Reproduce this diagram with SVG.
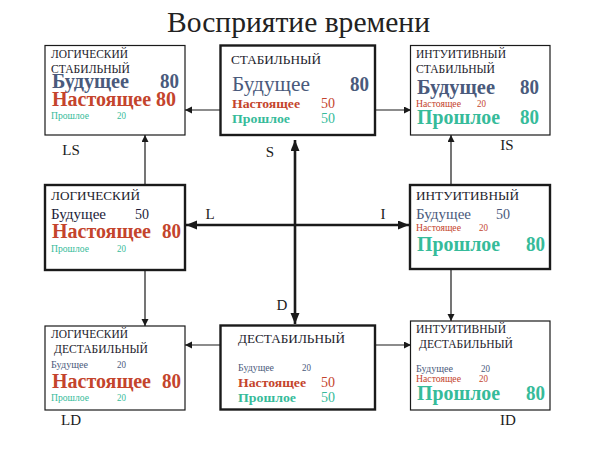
<svg xmlns="http://www.w3.org/2000/svg" width="600" height="450" viewBox="0 0 600 450">
<style>
text{font-family:"Liberation Serif","Times New Roman",serif}
.box{fill:#fff;stroke:#1a1a1a;stroke-width:1.2}
.bx{fill:#fff;stroke:#1a1a1a;stroke-width:2.4}
.hd{font-size:11.5px;fill:#1c1c2c}
.hdl{font-size:13px;fill:#1c1c2c}
.title{font-size:29px;fill:#222}
.fb{fill:#4a5a7c}
.fp{fill:#c4442c}
.fo{fill:#36bb9a}
.big{font-size:20px;font-weight:bold}
.mid{font-size:14px}
.midb{font-size:13.5px;font-weight:bold}
.sm{font-size:9.5px}
.lab{font-size:15px;fill:#1a1a1a}
.thin{stroke:#1a1a1a;stroke-width:1.2;fill:none}
.thick{stroke:#1a1a1a;stroke-width:2.6;fill:none}
</style>
<defs>
<marker id="as" markerUnits="userSpaceOnUse" markerWidth="8" markerHeight="8" refX="7" refY="3.5" orient="auto">
<path d="M0,0 L7,3.5 L0,7 Z" fill="#1a1a1a"/>
</marker>
<marker id="ab" markerUnits="userSpaceOnUse" markerWidth="12" markerHeight="10" refX="11" refY="4.5" orient="auto">
<path d="M0,0 L11,4.5 L0,9 Z" fill="#1a1a1a"/>
</marker>
</defs>
<rect width="600" height="450" fill="#fff"/>
<text class="title" x="167" y="32" textLength="263" lengthAdjust="spacingAndGlyphs">Восприятие времени</text>

<g id="connectors">
<line class="thin" x1="220" y1="110" x2="185" y2="110" marker-end="url(#as)"/>
<line class="thin" x1="375" y1="110" x2="411" y2="110" marker-end="url(#as)"/>
<line class="thin" x1="145" y1="185" x2="145" y2="135" marker-end="url(#as)"/>
<line class="thin" x1="451" y1="185" x2="451" y2="135" marker-end="url(#as)"/>
<line class="thin" x1="145" y1="270" x2="145" y2="326" marker-end="url(#as)"/>
<line class="thin" x1="451" y1="269" x2="451" y2="321" marker-end="url(#as)"/>
<line class="thin" x1="220" y1="345" x2="185" y2="345" marker-end="url(#as)"/>
<line class="thin" x1="375" y1="345" x2="411" y2="345" marker-end="url(#as)"/>
<line class="thick" x1="295" y1="225" x2="295" y2="140" marker-end="url(#ab)"/>
<line class="thick" x1="295" y1="225" x2="295" y2="324" marker-end="url(#ab)"/>
<line class="thick" x1="295" y1="225" x2="186" y2="225" marker-end="url(#ab)"/>
<line class="thick" x1="295" y1="225" x2="409" y2="225" marker-end="url(#ab)"/>
<text class="lab" x="270" y="157" text-anchor="middle">S</text>
<text class="lab" x="282" y="310" text-anchor="middle">D</text>
<text class="lab" x="210" y="219" text-anchor="middle">L</text>
<text class="lab" x="383" y="219" text-anchor="middle">I</text>
</g>

<g id="LS">
<rect class="box" x="45" y="45.5" width="140" height="89.5"/>
<text class="hd" x="51" y="58" textLength="77" lengthAdjust="spacingAndGlyphs">ЛОГИЧЕСКИЙ</text>
<text class="hd" x="51" y="72.5" textLength="79" lengthAdjust="spacingAndGlyphs">СТАБИЛЬНЫЙ</text>
<text class="big fb" x="52" y="88" textLength="77" lengthAdjust="spacingAndGlyphs">Будущее</text>
<text class="big fb" x="160" y="88" textLength="19" lengthAdjust="spacingAndGlyphs">80</text>
<text class="big fp" x="52" y="106" textLength="124" lengthAdjust="spacingAndGlyphs">Настоящее 80</text>
<text class="sm fo" x="51" y="119" textLength="38" lengthAdjust="spacingAndGlyphs">Прошлое</text>
<text class="sm fo" x="117" y="119" textLength="9" lengthAdjust="spacingAndGlyphs">20</text>
<text class="lab" x="71" y="155" text-anchor="middle">LS</text>
</g>

<g id="S">
<rect class="bx" x="220.5" y="45.5" width="154.5" height="89.5"/>
<text class="hdl" x="231" y="64" textLength="90" lengthAdjust="spacingAndGlyphs">СТАБИЛЬНЫЙ</text>
<text class="big fb" x="232" y="91" style="font-weight:normal" textLength="78" lengthAdjust="spacingAndGlyphs">Будущее</text>
<text class="big fb" x="350" y="91" textLength="19" lengthAdjust="spacingAndGlyphs">80</text>
<text class="midb fp" x="232" y="108" textLength="68" lengthAdjust="spacingAndGlyphs">Настоящее</text>
<text class="mid fp" x="321" y="108" textLength="14" lengthAdjust="spacingAndGlyphs">50</text>
<text class="midb fo" x="232" y="123" textLength="58" lengthAdjust="spacingAndGlyphs">Прошлое</text>
<text class="mid fo" x="321" y="123" textLength="14" lengthAdjust="spacingAndGlyphs">50</text>
</g>

<g id="IS">
<rect class="box" x="410.5" y="45.5" width="139.5" height="89.5"/>
<text class="hd" x="416" y="58" textLength="90" lengthAdjust="spacingAndGlyphs">ИНТУИТИВНЫЙ</text>
<text class="hd" x="416" y="72.5" textLength="79" lengthAdjust="spacingAndGlyphs">СТАБИЛЬНЫЙ</text>
<text class="big fb" x="417" y="94" textLength="78" lengthAdjust="spacingAndGlyphs">Будущее</text>
<text class="big fb" x="520" y="94" textLength="19" lengthAdjust="spacingAndGlyphs">80</text>
<text class="sm fp" x="416" y="107" textLength="45" lengthAdjust="spacingAndGlyphs">Настоящее</text>
<text class="sm fp" x="477" y="107" textLength="9" lengthAdjust="spacingAndGlyphs">20</text>
<text class="big fo" x="417" y="124" textLength="83" lengthAdjust="spacingAndGlyphs">Прошлое</text>
<text class="big fo" x="520" y="124" textLength="19" lengthAdjust="spacingAndGlyphs">80</text>
<text class="lab" x="507" y="150" text-anchor="middle">IS</text>
</g>

<g id="L">
<rect class="bx" x="45" y="185" width="140" height="85"/>
<text class="hdl" x="51" y="200" textLength="89" lengthAdjust="spacingAndGlyphs">ЛОГИЧЕСКИЙ</text>
<text class="mid" x="51" y="219" fill="#1c1c3a" textLength="55" lengthAdjust="spacingAndGlyphs">Будущее</text>
<text class="mid" x="135" y="219" fill="#1c1c3a" textLength="14" lengthAdjust="spacingAndGlyphs">50</text>
<text class="big fp" x="52" y="238" textLength="99" lengthAdjust="spacingAndGlyphs">Настоящее</text>
<text class="big fp" x="162" y="238" textLength="19" lengthAdjust="spacingAndGlyphs">80</text>
<text class="sm fo" x="51" y="252" textLength="38" lengthAdjust="spacingAndGlyphs">Прошлое</text>
<text class="sm fo" x="117" y="252" textLength="9" lengthAdjust="spacingAndGlyphs">20</text>
</g>

<g id="I">
<rect class="bx" x="410" y="185" width="140" height="84"/>
<text class="hdl" x="416" y="200" textLength="103" lengthAdjust="spacingAndGlyphs">ИНТУИТИВНЫЙ</text>
<text class="mid fb" x="416" y="219" textLength="55" lengthAdjust="spacingAndGlyphs">Будущее</text>
<text class="mid fb" x="496" y="219" textLength="14" lengthAdjust="spacingAndGlyphs">50</text>
<text class="sm fp" x="416" y="231" textLength="45" lengthAdjust="spacingAndGlyphs">Настоящее</text>
<text class="sm fp" x="479" y="231" textLength="9" lengthAdjust="spacingAndGlyphs">20</text>
<text class="big fo" x="417" y="251" textLength="83" lengthAdjust="spacingAndGlyphs">Прошлое</text>
<text class="big fo" x="526" y="251" textLength="19" lengthAdjust="spacingAndGlyphs">80</text>
</g>

<g id="LD">
<rect class="box" x="45" y="326" width="140" height="84"/>
<text class="hd" x="51" y="338" textLength="77" lengthAdjust="spacingAndGlyphs">ЛОГИЧЕСКИЙ</text>
<text class="hd" x="54" y="353" textLength="94" lengthAdjust="spacingAndGlyphs">ДЕСТАБИЛЬНЫЙ</text>
<text class="sm fb" x="51" y="368" textLength="37" lengthAdjust="spacingAndGlyphs">Будущее</text>
<text class="sm fb" x="117" y="368" textLength="9" lengthAdjust="spacingAndGlyphs">20</text>
<text class="big fp" x="52" y="388" textLength="99" lengthAdjust="spacingAndGlyphs">Настоящее</text>
<text class="big fp" x="162" y="388" textLength="19" lengthAdjust="spacingAndGlyphs">80</text>
<text class="sm fo" x="51" y="401" textLength="38" lengthAdjust="spacingAndGlyphs">Прошлое</text>
<text class="sm fo" x="117" y="401" textLength="9" lengthAdjust="spacingAndGlyphs">20</text>
<text class="lab" x="71" y="425" text-anchor="middle">LD</text>
</g>

<g id="D">
<rect class="bx" x="220.5" y="325.5" width="154.5" height="84"/>
<text class="hdl" x="238" y="343" textLength="107" lengthAdjust="spacingAndGlyphs">ДЕСТАБИЛЬНЫЙ</text>
<text class="sm fb" x="238" y="371" textLength="36" lengthAdjust="spacingAndGlyphs">Будущее</text>
<text class="sm fb" x="302" y="371" textLength="9" lengthAdjust="spacingAndGlyphs">20</text>
<text class="midb fp" x="238" y="387" textLength="68" lengthAdjust="spacingAndGlyphs">Настоящее</text>
<text class="mid fp" x="321" y="387" textLength="14" lengthAdjust="spacingAndGlyphs">50</text>
<text class="midb fo" x="238" y="402" textLength="58" lengthAdjust="spacingAndGlyphs">Прошлое</text>
<text class="mid fo" x="321" y="402" textLength="14" lengthAdjust="spacingAndGlyphs">50</text>
</g>

<g id="ID">
<rect class="box" x="410.5" y="321" width="139.5" height="89"/>
<text class="hd" x="416" y="333" textLength="90" lengthAdjust="spacingAndGlyphs">ИНТУИТИВНЫЙ</text>
<text class="hd" x="419" y="348" textLength="94" lengthAdjust="spacingAndGlyphs">ДЕСТАБИЛЬНЫЙ</text>
<text class="sm fb" x="416" y="372" textLength="37" lengthAdjust="spacingAndGlyphs">Будущее</text>
<text class="sm fb" x="481" y="372" textLength="9" lengthAdjust="spacingAndGlyphs">20</text>
<text class="sm fp" x="416" y="382" textLength="45" lengthAdjust="spacingAndGlyphs">Настоящее</text>
<text class="sm fp" x="479" y="382" textLength="9" lengthAdjust="spacingAndGlyphs">20</text>
<text class="big fo" x="417" y="400" textLength="83" lengthAdjust="spacingAndGlyphs">Прошлое</text>
<text class="big fo" x="526" y="400" textLength="19" lengthAdjust="spacingAndGlyphs">80</text>
<text class="lab" x="508" y="425" text-anchor="middle">ID</text>
</g>
</svg>
